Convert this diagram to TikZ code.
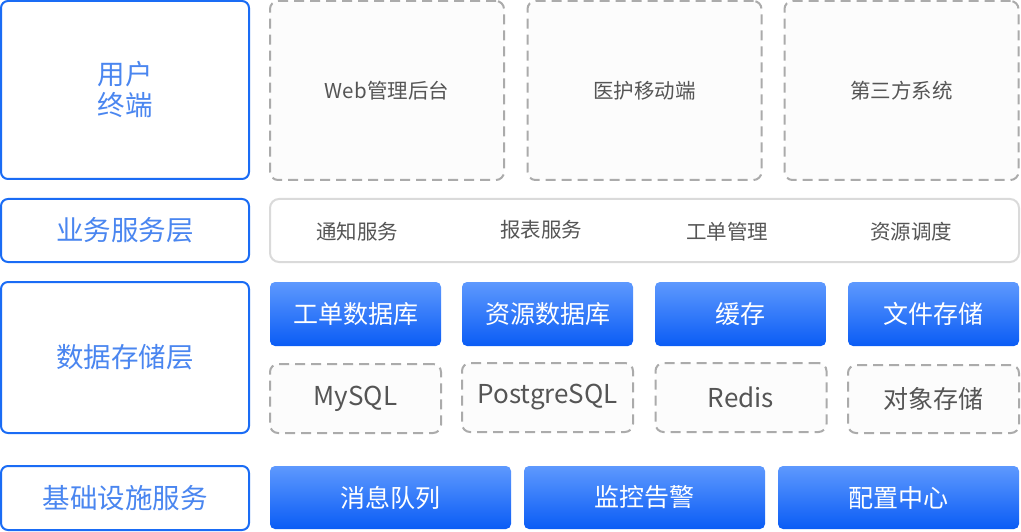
\documentclass[tikz,border=0pt]{standalone}
\usepackage{fontspec}
\setmainfont{Noto Sans CJK SC}
\definecolor{lborder}{HTML}{1A6CF5}
\definecolor{ltext}{HTML}{4A86F0}
\definecolor{btop}{HTML}{5E99FE}
\definecolor{bbot}{HTML}{0A5CF5}
\definecolor{dgray}{HTML}{ABABAB}
\definecolor{dfill}{HTML}{FCFCFC}
\definecolor{tgray}{HTML}{555555}
\definecolor{bandline}{HTML}{DADADA}
\tikzset{
  layerbox/.style={draw=lborder, line width=2pt, rounded corners=7pt, fill=white, inner sep=0pt, text=ltext, align=center, font=\fontsize{27.5}{31}\selectfont},
  dashbox/.style={draw=dgray, line width=2pt, dash pattern=on 10pt off 6pt, rounded corners=8pt, fill=dfill, inner sep=0pt, text=tgray},
  bluebox/.style={rounded corners=5pt, top color=btop, bottom color=bbot, inner sep=0pt, text=white, font=\fontsize{25}{30}\selectfont},
  bandbox/.style={draw=bandline, line width=2pt, rounded corners=9pt, fill=white, inner sep=0pt},
  smalltxt/.style={text=tgray, font=\fontsize{20.5}{24}\selectfont, inner sep=0pt},
  latinfont/.style={font=\fontsize{26}{30}\selectfont},
  cjkfont/.style={font=\fontsize{25}{30}\selectfont},
}
\begin{document}
\begin{tikzpicture}[x=1pt,y=-1pt]
\useasboundingbox (0,0) rectangle (1021,532);
% left layer boxes
\node[layerbox, minimum width=248pt, minimum height=178pt] (user) at (125,90) {用户\\终端};
\node[layerbox, minimum width=248pt, minimum height=63pt] (biz) at (125,230.5) {业务服务层};
\node[layerbox, minimum width=248pt, minimum height=151pt] (data) at (125,357.5) {数据存储层};
\node[layerbox, minimum width=248pt, minimum height=64pt] (infra) at (125,498) {基础设施服务};
% user terminals
\node[dashbox, minimum width=234pt, minimum height=179pt, font=\fontsize{20.5}{24}\selectfont] (web) at (387,90.5) {Web管理后台};
\node[dashbox, minimum width=234pt, minimum height=179pt, font=\fontsize{20.5}{24}\selectfont] (mobile) at (644.5,90.5) {医护移动端};
\node[dashbox, minimum width=234pt, minimum height=179pt, font=\fontsize{20.5}{24}\selectfont] (third) at (901.5,90.5) {第三方系统};
% business band
\node[bandbox, minimum width=749pt, minimum height=63pt] (band) at (644.5,230.5) {};
\node[smalltxt] (notify) at (357,232) {通知服务};
\node[smalltxt] (report) at (541,230) {报表服务};
\node[smalltxt] (order) at (727,232) {工单管理};
\node[smalltxt] (sched) at (911,232) {资源调度};
% data storage
\node[bluebox, minimum width=171pt, minimum height=64pt] (odb) at (355.5,314) {工单数据库};
\node[bluebox, minimum width=171pt, minimum height=64pt] (rdb) at (547.5,314) {资源数据库};
\node[bluebox, minimum width=171pt, minimum height=64pt] (cache) at (740.5,314) {缓存};
\node[bluebox, minimum width=171pt, minimum height=64pt] (file) at (933.5,314) {文件存储};
\node[dashbox, latinfont, minimum width=171pt, minimum height=69pt] (mysql) at (355.5,398.5) {MySQL};
\node[dashbox, latinfont, minimum width=171pt, minimum height=69pt] (pg) at (547.5,397.5) {PostgreSQL};
\node[dashbox, latinfont, minimum width=171pt, minimum height=69pt] (redis) at (741,397.5) {Redis};
\node[dashbox, cjkfont, minimum width=171pt, minimum height=68pt] (obj) at (933.5,399) {对象存储};
% infrastructure
\node[bluebox, minimum width=241pt, minimum height=63pt] (mq) at (390.5,497.5) {消息队列};
\node[bluebox, minimum width=241pt, minimum height=63pt] (mon) at (644.5,497.5) {监控告警};
\node[bluebox, minimum width=241pt, minimum height=63pt] (conf) at (898.5,497.5) {配置中心};
\end{tikzpicture}
\end{document}
